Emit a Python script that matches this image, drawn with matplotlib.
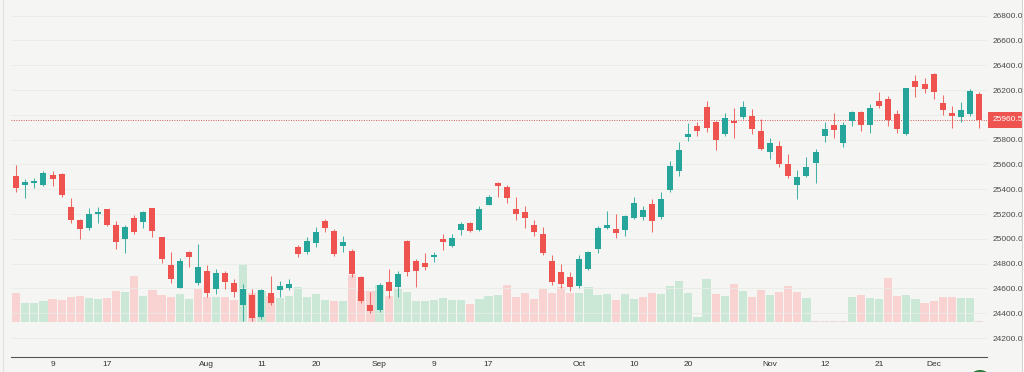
import numpy as np
import matplotlib
matplotlib.use("Agg")
import matplotlib.pyplot as plt
import matplotlib.transforms as mtransforms
from matplotlib.patches import Rectangle, Circle
from matplotlib.lines import Line2D

plt.rcParams["font.family"] = ["Liberation Sans Narrow", "Liberation Sans", "DejaVu Sans"]

# --- daily OHLC (Jul -> Dec) ---
opens = [25509, 25434, 25448, 25432, 25517, 25520, 25259, 25152, 25085, 25198,
         25238, 25109, 24998, 25165, 25138, 25246, 25012, 24789, 24606, 24896,
         24641, 24740, 24593, 24727, 24646, 24464, 24547, 24367, 24560, 24587,
         24601, 24936, 24891, 24969, 25146, 25065, 24944, 24902, 24694, 24466,
         24426, 24654, 24614, 24982, 24823, 24802, 24856, 24996, 24944, 25071,
         25125, 25071, 25275, 25448, 25415, 25240, 25214, 25111, 25039, 24823,
         24730, 24690, 24619, 24757, 24918, 25085, 25082, 25071, 25168, 25178,
         25281, 25178, 25394, 25547, 25824, 25910, 26066, 25944, 25845, 25950,
         25985, 25990, 25872, 25700, 25748, 25601, 25434, 25507, 25614, 25832,
         25915, 25770, 25953, 26023, 25918, 26114, 26128, 26007, 25843, 26270,
         26248, 26330, 26098, 26012, 25985, 26007, 26168]
highs = [25595, 25480, 25493, 25549, 25549, 25528, 25327, 25157, 25246, 25259,
         25240, 25144, 25109, 25192, 25227, 25251, 25017, 24891, 24843, 24904,
         24958, 24786, 24754, 24743, 24673, 24635, 24593, 24593, 24702, 24662,
         24673, 24950, 25017, 25093, 25157, 25077, 25025, 24918, 24700, 24573,
         24640, 24757, 24740, 24990, 24835, 24888, 24896, 25039, 25039, 25138,
         25138, 25265, 25353, 25455, 25434, 25335, 25265, 25152, 25098, 24872,
         24797, 24730, 24869, 24904, 25103, 25224, 25198, 25192, 25335, 25265,
         25319, 25380, 25628, 25783, 25932, 25944, 26111, 25953, 26017, 26053,
         26111, 26044, 25964, 25811, 25791, 25682, 25555, 25662, 25722, 25944,
         26017, 25944, 26031, 26033, 26085, 26182, 26152, 26039, 26219, 26321,
         26294, 26335, 26160, 26071, 26106, 26208, 26182]
lows = [25380, 25331, 25407, 25426, 25426, 25340, 25130, 25001, 25070, 25125,
        25101, 24915, 24883, 25039, 25085, 25017, 24803, 24646, 24601, 24775,
        24627, 24533, 24555, 24593, 24533, 24340, 24340, 24351, 24466, 24533,
        24587, 24856, 24875, 24936, 25057, 24861, 24896, 24690, 24480, 24399,
        24410, 24520, 24528, 24702, 24614, 24748, 24815, 24910, 24936, 25031,
        25057, 25060, 25270, 25335, 25286, 25152, 25085, 25023, 24869, 24627,
        24606, 24579, 24606, 24748, 24883, 25077, 25009, 25025, 25157, 25152,
        25057, 25157, 25380, 25507, 25791, 25829, 25864, 25716, 25829, 25815,
        25964, 25845, 25716, 25644, 25582, 25488, 25319, 25501, 25448, 25783,
        25811, 25743, 25912, 25872, 25856, 26053, 25912, 25856, 25840, 26146,
        26178, 26125, 25998, 25896, 25944, 25990, 25896]
closes = [25407, 25460, 25466, 25528, 25480, 25356, 25149, 25082, 25198, 25219,
          25111, 24972, 25093, 25057, 25219, 25063, 24835, 24676, 24823, 24853,
          24770, 24560, 24727, 24652, 24573, 24598, 24359, 24587, 24485, 24619,
          24633, 24875, 24982, 25052, 25085, 24877, 24972, 24714, 24501, 24420,
          24627, 24581, 24714, 24735, 24740, 24770, 24869, 24974, 25004, 25119,
          25065, 25240, 25335, 25426, 25327, 25200, 25165, 25055, 24883, 24652,
          24633, 24609, 24837, 24896, 25085, 25109, 25044, 25184, 25291, 25232,
          25144, 25323, 25587, 25716, 25845, 25872, 25896, 25797, 25972, 25934,
          26061, 25883, 25722, 25770, 25601, 25509, 25496, 25577, 25700, 25883,
          25880, 25918, 26020, 25915, 26057, 26069, 25958, 25886, 26214, 26222,
          26208, 26182, 26039, 25993, 26039, 26194, 25960.55]
volumes = [284, 190, 190, 207, 230, 217, 243, 257, 233, 227,
           237, 307, 293, 460, 260, 320, 267, 250, 277, 227,
           327, 250, 250, 243, 217, 573, 285, 305, 257, 233,
           260, 345, 243, 277, 217, 205, 210, 463, 305, 305,
           365, 257, 323, 300, 207, 207, 217, 233, 217, 217,
           177, 227, 257, 267, 365, 250, 290, 223, 327, 283,
           350, 290, 290, 350, 267, 277, 217, 277, 223, 250,
           283, 275, 355, 405, 283, 42, 423, 272, 255, 372,
           310, 243, 317, 263, 292, 353, 292, 232, 0, 0,
           0, 0, 250, 265, 240, 225, 433, 253, 265, 228,
           190, 207, 245, 248, 240, 240, 0]

date_pos = [4, 10, 21, 27, 33, 40, 46, 52, 62, 68, 74, 83, 89, 95, 101]
date_lbl = ["9", "17", "Aug", "11", "20", "Sep", "9", "17",
            "Oct", "10", "20", "Nov", "12", "21", "Dec"]
price_ticks = list(range(24200, 26801, 200))
last_price = 25960.55

bg = "#f5f6f3"
up, down = "#26a69a", "#ef5350"
vol_up, vol_down = "#cbe8d6", "#f9d2d2"

o = np.array(opens); h = np.array(highs); l = np.array(lows); c = np.array(closes)
v = np.array(volumes, dtype=float)
x = np.arange(len(c))

W, H = 1024, 372
fig = plt.figure(figsize=(W / 100, H / 100), dpi=100, facecolor=bg)
ax = fig.add_axes([10.7 / W, 15 / H, 976.3 / W, 357 / H])
ax.set_facecolor(bg)

# volume (colour by close vs previous close)
prev = np.r_[o[0], c[:-1]]
vcol = np.where(c >= prev, vol_up, vol_down)
ax.bar(x, v, width=0.9, color=vcol, linewidth=0)
zero = v == 0
ax.bar(x[zero], np.full(zero.sum(), 6), width=0.9, color="#ead9d9", linewidth=0)
ax.set_ylim(-355, 3215)
ax.set_xlim(-0.606, 106.88)
ax.set_yticks([])
for s in ["top", "left", "right"]:
    ax.spines[s].set_visible(False)
ax.spines["bottom"].set_color("#555555")
ax.spines["bottom"].set_linewidth(0.8)
ax.set_xticks(date_pos)
ax.set_xticklabels(date_lbl)
ax.tick_params(axis="x", length=0, pad=3.2, labelsize=6, labelcolor="#333333")

# price axis on the right
axp = ax.twinx()
axp.set_ylim(24047, 26926)
axp.set_xlim(ax.get_xlim())
for s in axp.spines.values():
    s.set_visible(False)
axp.set_yticks(price_ticks)
axp.set_yticklabels([f"{p:.2f}" for p in price_ticks])
axp.tick_params(axis="y", length=0, pad=4.3, labelsize=6, labelcolor="#4a4a4a")
axp.grid(axis="y", color="#e9ebe7", linewidth=0.6)
axp.set_axisbelow(True)

col = np.where(c >= o, up, down)
axp.vlines(x, l, h, colors=col, linewidth=0.75, alpha=0.85, zorder=3)
body_lo = np.minimum(o, c)
body_h = np.maximum(np.abs(c - o), 9)
axp.bar(x, body_h, bottom=body_lo, width=0.66, color=col, linewidth=0, zorder=4)

axp.axhline(last_price, color="#d05a56", linestyle=(0, (1, 1.5)), linewidth=0.7, zorder=2)
tr = mtransforms.blended_transform_factory(axp.transAxes, axp.transData)
axp.text(1.0062, last_price, f"{last_price:.2f}", transform=tr, ha="left", va="center",
         fontsize=6, color="white", clip_on=False, zorder=10,
         bbox=dict(boxstyle="square,pad=0.55", fc=down, ec="none"))

# frame bits
fig.add_artist(Line2D([3 / W, 3 / W], [0, 1], color="#e2e2e2", linewidth=0.8, zorder=11))
fig.add_artist(Rectangle((1021.5 / W, 0), 3 / W, 1, facecolor="white", edgecolor="none",
                         transform=fig.transFigure, zorder=11))
fig.add_artist(Line2D([1021.5 / W, 1021.5 / W], [0, 1], color="#d4d4d4", linewidth=0.8, zorder=12))
fig.add_artist(Circle((9.80, -0.10), 0.12, transform=fig.dpi_scale_trans,
                      facecolor="#2b7a3d", edgecolor="none", zorder=12))

fig.savefig("out.png", dpi=100, facecolor=bg)
